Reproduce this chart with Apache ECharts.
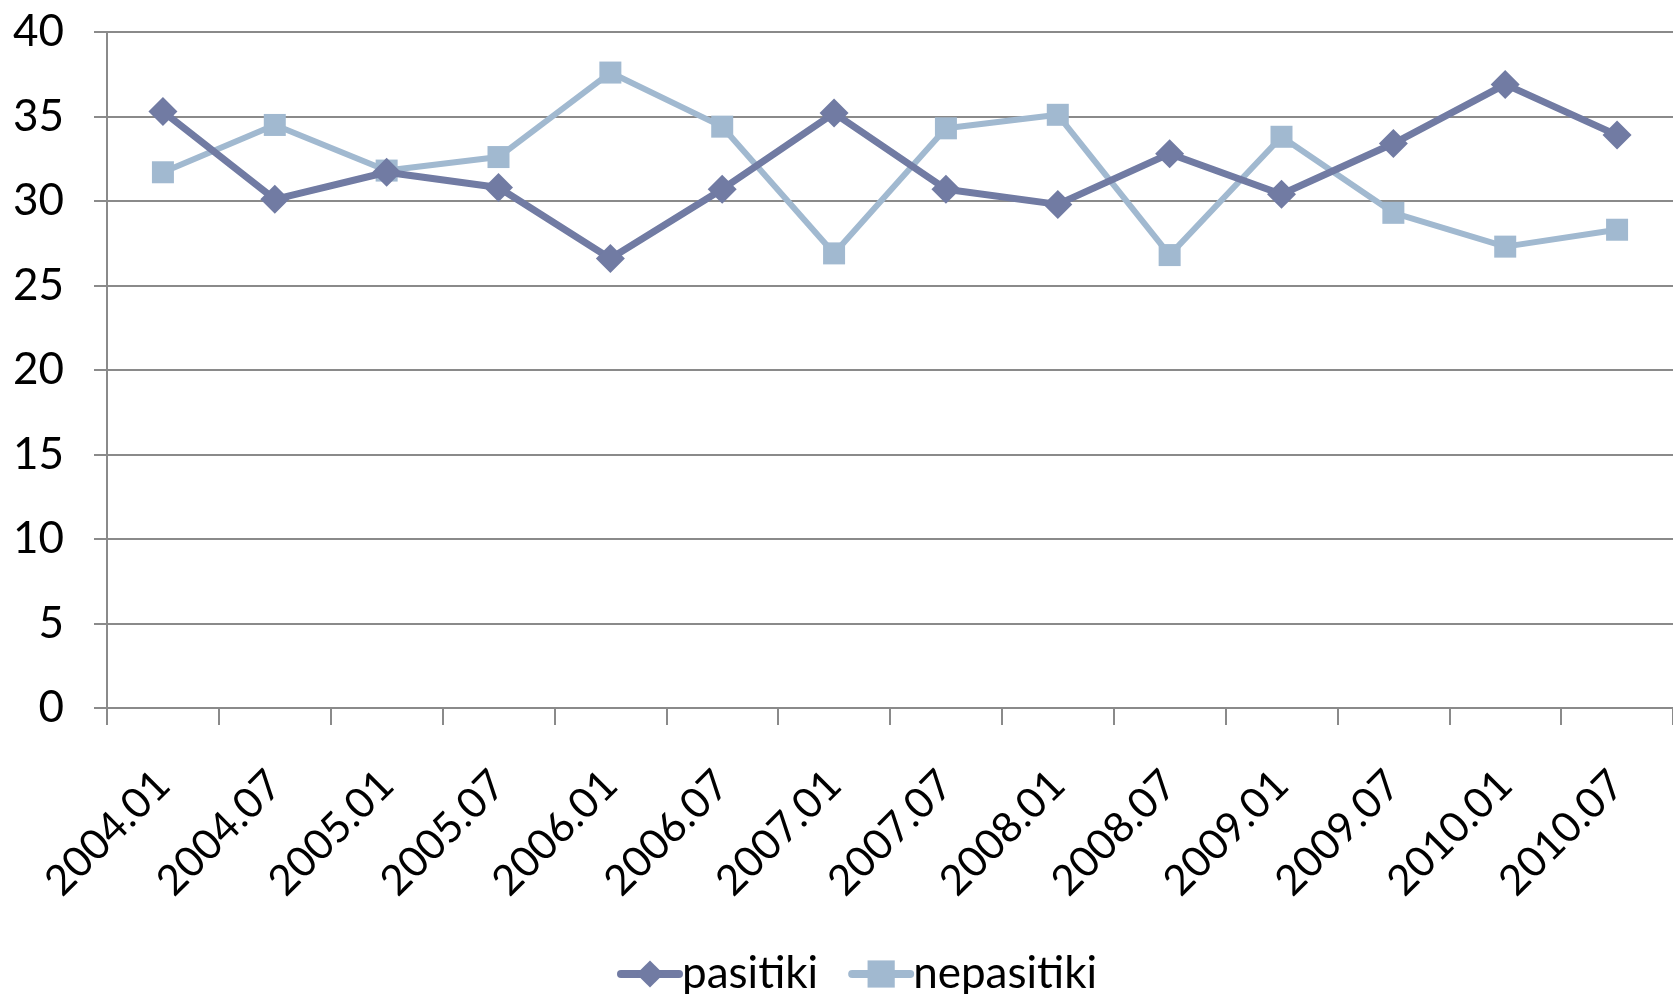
<!DOCTYPE html>
<html>
<head>
<meta charset="utf-8">
<script src="https://cdn.jsdelivr.net/npm/echarts@6/dist/echarts.min.js"></script>
<style>
html,body{margin:0;padding:0;background:#fff;}
#chart{width:1673px;height:994px;}
</style>
</head>
<body>
<div id="chart"></div>
<script>
const categories = ['2004.01','2004.07','2005.01','2005.07','2006.01','2006.07','2007.01','2007.07','2008.01','2008.07','2009.01','2009.07','2010.01','2010.07'];
const pasitiki = [35.3, 30.1, 31.7, 30.8, 26.6, 30.7, 35.2, 30.7, 29.8, 32.8, 30.4, 33.4, 36.9, 33.9];
const nepasitiki = [31.7, 34.5, 31.8, 32.6, 37.6, 34.4, 26.9, 34.3, 35.1, 26.8, 33.8, 29.3, 27.3, 28.3];
const seriesNames = ['pasitiki', 'nepasitiki'];

const FONT = 'Lato';
const DIAMOND = 'path://M10,0 L20,10 L10,20 L0,10 Z';
const chart = echarts.init(document.getElementById('chart'), null, {renderer: 'canvas'});
chart.setOption({
  animation: false,
  backgroundColor: '#ffffff',
  grid: {left: 107, top: 32, width: 1576, height: 676, containLabel: false},
  legend: {
    data: seriesNames,
    left: 612, top: 947,
    itemWidth: 58, itemHeight: 34, itemGap: 30,
    lineStyle: {width: 8, cap: 'round'},
    textStyle: {fontFamily: FONT, fontSize: 44, color: '#000', padding: [0,0,0,-2]}
  },
  xAxis: {
    type: 'category',
    data: categories,
    boundaryGap: true,
    axisLine: {lineStyle: {color: '#8a8a8a', width: 2}},
    axisTick: {show: true, length: 17, lineStyle: {color: '#8a8a8a', width: 2}},
    axisLabel: {rotate: 45, margin: 70, fontFamily: FONT, fontSize: 42, color: '#000', interval: 0},
    splitLine: {show: false}
  },
  yAxis: {
    type: 'value',
    min: 0, max: 40, interval: 5,
    axisLine: {show: true, lineStyle: {color: '#8a8a8a', width: 2}},
    axisTick: {show: true, length: 13, lineStyle: {color: '#8a8a8a', width: 2}},
    axisLabel: {margin: 43, fontFamily: FONT, fontSize: 44, color: '#000'},
    splitLine: {show: true, lineStyle: {color: '#8a8a8a', width: 2}}
  },
  series: [
    {
      name: seriesNames[0], type: 'line', data: pasitiki,
      symbol: DIAMOND, symbolSize: 29,
      lineStyle: {color: '#717ba3', width: 7},
      itemStyle: {color: '#717ba3'},
      z: 3
    },
    {
      name: seriesNames[1], type: 'line', data: nepasitiki,
      symbol: 'rect', symbolSize: 22,
      lineStyle: {color: '#a1b9d0', width: 6},
      itemStyle: {color: '#a1b9d0'},
      z: 2
    }
  ]
});
</script>
</body>
</html>
